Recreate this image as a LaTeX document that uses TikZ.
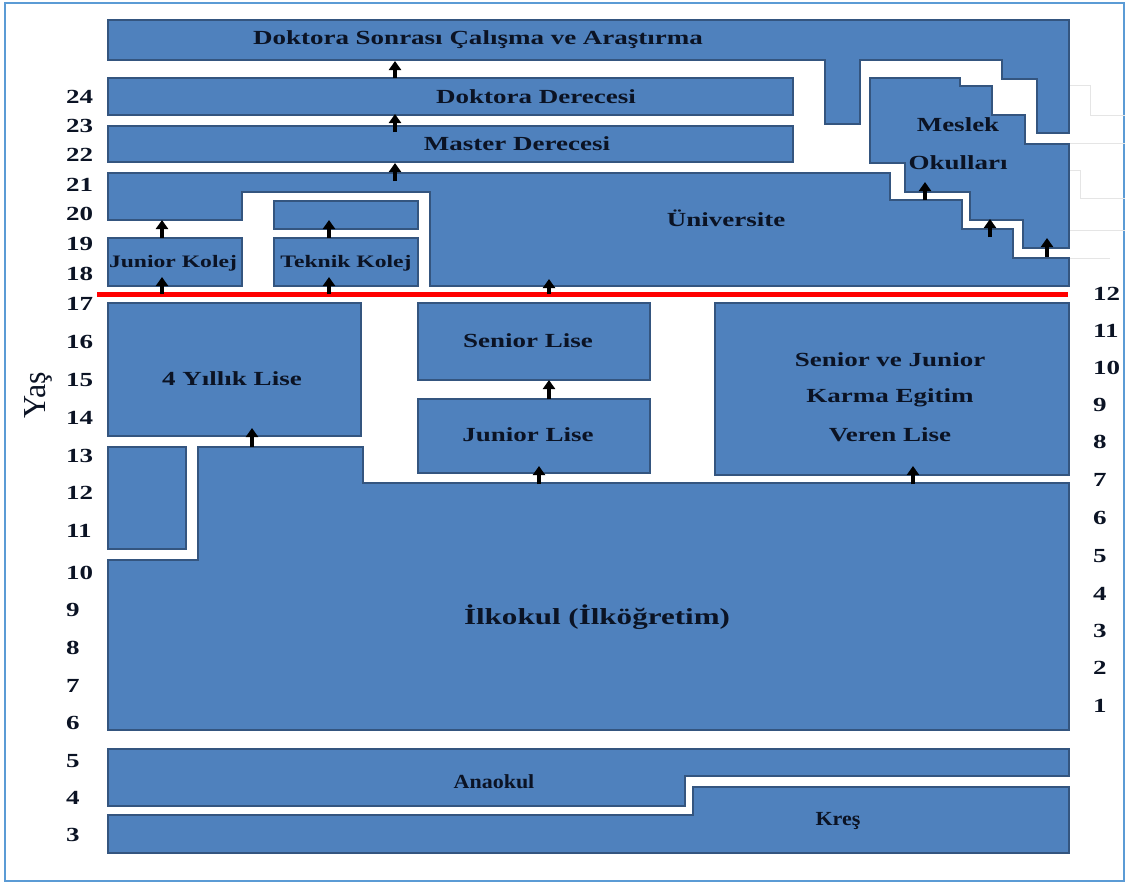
\documentclass[tikz,border=0pt]{standalone}
\usepackage{fontspec}
\setmainfont{Liberation Serif}
\newfontfamily\lblfont{Liberation Serif}[FakeStretch=1.35]
\newfontfamily\narrowfont{Liberation Serif}[FakeStretch=1.1]
\usetikzlibrary{arrows.meta}
\definecolor{boxblue}{HTML}{4F81BD}
\definecolor{boxedge}{HTML}{34557F}
\definecolor{txt}{HTML}{0B1324}
\definecolor{framec}{HTML}{5B9BD5}
\begin{document}
\begin{tikzpicture}[x=1pt,y=-1pt,
  blk/.style={fill=boxblue,draw=boxedge,line width=1.2pt},
  lbl/.style={text=txt,inner sep=0pt,font=\lblfont\bfseries\fontsize{20}{24}\selectfont},
  smlbl/.style={text=txt,inner sep=0pt,font=\lblfont\bfseries\fontsize{17.5}{21}\selectfont},
  biglbl/.style={text=txt,inner sep=0pt,font=\lblfont\bfseries\fontsize{23}{27}\selectfont},
  prelbl/.style={text=txt,inner sep=0pt,font=\narrowfont\bfseries\fontsize{20}{24}\selectfont},
  num/.style={anchor=west,text=txt,inner sep=0pt,font=\lblfont\bfseries\fontsize{20}{24}\selectfont},
  upar/.style={-{Triangle[width=12pt,length=9pt]},line width=3.6pt,black},
  ghost/.style={draw=black!10,line width=0.8pt}
]
\useasboundingbox (0,0) rectangle (1127,884);
\draw[framec,line width=2pt] (5,3) rectangle (1124,881);

% faint ghost outlines on the right
\draw[ghost] (1070,85) -- (1090,85) -- (1090,115) -- (1125,115);
\draw[ghost] (1069,143) -- (1125,143);
\draw[ghost] (1070,170) -- (1080,170) -- (1080,198) -- (1125,198);
\draw[ghost] (1069,230) -- (1125,230);
\draw[ghost] (1069,258) -- (1110,258);

% Doktora Sonrasi
\path[blk] (108,20) -- (1069,20) -- (1069,133) -- (1037,133) -- (1037,79) -- (1002,79)
  -- (1002,60) -- (860,60) -- (860,124) -- (825,124) -- (825,60) -- (108,60) -- cycle;
\node[lbl] (dsc) at (478,40) {Doktora Sonrası Çalışma ve Araştırma};

% Doktora Derecesi
\path[blk] (108,78) rectangle (793,115);
\node[lbl] (dd) at (536,97) {Doktora Derecesi};

% Master
\path[blk] (108,126) rectangle (793,162);
\node[lbl] (md) at (517,144) {Master Derecesi};

% Universite
\path[blk] (108,173) -- (890,173) -- (890,200) -- (962,200) -- (962,229) -- (1013,229)
  -- (1013,258) -- (1069,258) -- (1069,286) -- (430,286) -- (430,192) -- (242,192)
  -- (242,220) -- (108,220) -- cycle;
\node[lbl] (uni) at (726,218) {Üniversite};

% Meslek Okullari
\path[blk] (870,78) -- (960,78) -- (960,86) -- (992,86) -- (992,115) -- (1025,115)
  -- (1025,144) -- (1069,144) -- (1069,248) -- (1023,248) -- (1023,220) -- (970,220)
  -- (970,192) -- (905,192) -- (905,163) -- (870,163) -- cycle;
\node[lbl] (mes1) at (958,125) {Meslek};
\node[lbl] (mes2) at (958,163) {Okulları};

% Junior Kolej, Teknik Kolej
\path[blk] (108,238) rectangle (242,286);
\node[smlbl] (jk) at (173,263) {Junior Kolej};
\path[blk] (274,201) rectangle (418,229);
\path[blk] (274,238) rectangle (418,286);
\node[smlbl] (tk) at (346,263) {Teknik Kolej};

% red line
\draw[red,line width=5pt] (97,294) -- (1068,294);

% 4 Yillik Lise
\path[blk] (108,303) rectangle (361,436);
\node[lbl] (l4) at (232,379) {4 Yıllık Lise};

% Senior / Junior Lise
\path[blk] (418,303) rectangle (650,380);
\node[lbl] (sl) at (528,341) {Senior Lise};
\path[blk] (418,399) rectangle (650,473);
\node[lbl] (jl) at (528,435) {Junior Lise};

% Karma
\path[blk] (715,303) rectangle (1069,475);
\node[lbl] (k1) at (890,360) {Senior ve Junior};
\node[lbl] (k2) at (890,398) {Karma Egitim};
\node[lbl] (k3) at (890,435) {Veren Lise};

% small left block
\path[blk] (108,447) rectangle (186,549);

% Ilkokul
\path[blk] (108,560) -- (198,560) -- (198,447) -- (363,447) -- (363,483) -- (1069,483)
  -- (1069,730) -- (108,730) -- cycle;
\node[biglbl] (ilk) at (597,617) {İlkokul (İlköğretim)};

% Anaokul, Kres
\path[blk] (108,749) -- (1069,749) -- (1069,776) -- (685,776) -- (685,806) -- (108,806) -- cycle;
\node[prelbl] (ana) at (494,782) {Anaokul};
\path[blk] (693,787) -- (1069,787) -- (1069,853) -- (108,853) -- (108,815) -- (693,815) -- cycle;
\node[prelbl] (kres) at (838,821) {Kreş};

% arrows
\draw[upar] (395,78) -- (395,61);
\draw[upar] (395,132) -- (395,114);
\draw[upar] (395,181) -- (395,163);
\draw[upar] (162,238) -- (162,220);
\draw[upar] (162,294) -- (162,277);
\draw[upar] (329,238) -- (329,220);
\draw[upar] (329,294) -- (329,277);
\draw[upar] (549,294) -- (549,279);
\draw[upar] (549,399) -- (549,380);
\draw[upar] (539,484) -- (539,466);
\draw[upar] (913,484) -- (913,466);
\draw[upar] (252,447) -- (252,428);
\draw[upar] (925,200) -- (925,182);
\draw[upar] (990,237) -- (990,219);
\draw[upar] (1047,257) -- (1047,238);

% left age numbers
\foreach \n/\y in {24/97,23/126,22/155,21/185,20/214,19/244,18/274,17/304,16/342,15/380,14/418,13/456,12/493,11/531,10/573,9/610,8/648,7/686,6/723,5/761,4/798,3/835}
  \node[num] (L\n) at (66,\y) {\n};
% right grade numbers
\foreach \n/\y in {12/294,11/331,10/368,9/405,8/442,7/480,6/518,5/556,4/594,3/631,2/668,1/706}
  \node[num] (R\n) at (1093,\y) {\n};

\node[rotate=90,text=txt,inner sep=0pt,font=\fontsize{32}{36}\selectfont] (yas) at (38,395) {Yaş};
\end{tikzpicture}
\end{document}
